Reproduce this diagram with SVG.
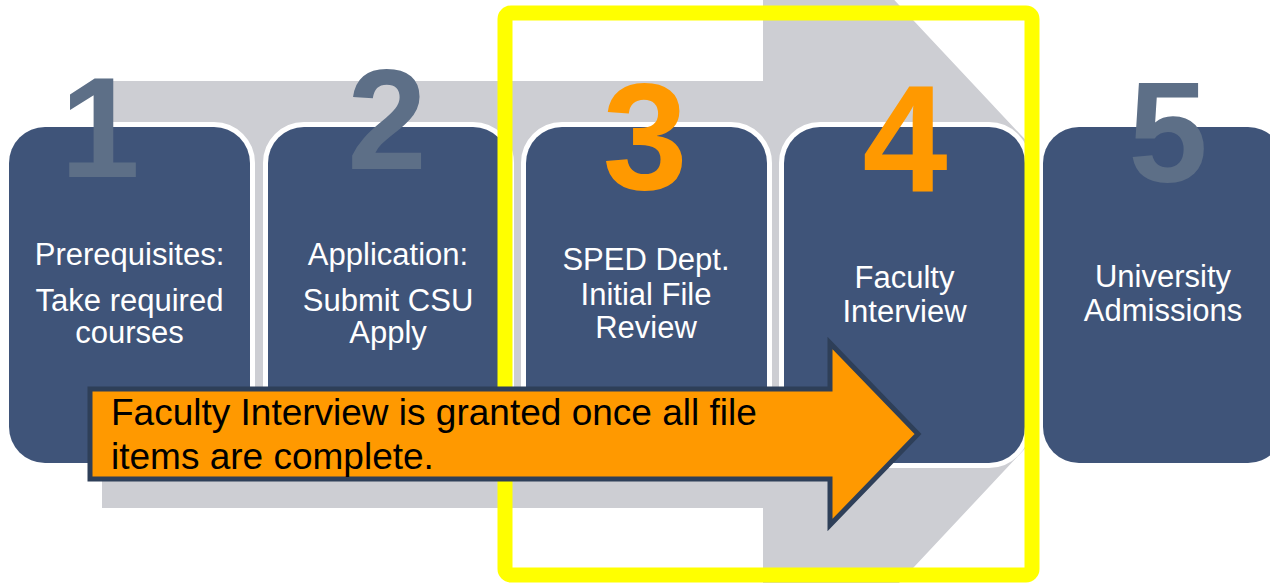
<svg xmlns="http://www.w3.org/2000/svg" width="1270" height="583" viewBox="0 0 1270 583">
<style>
.box{fill:#3F5479;stroke:#FFFFFF;stroke-width:10;paint-order:stroke}
.num{font-family:"Liberation Sans",Arial,sans-serif;font-weight:bold;text-anchor:middle}
.gnum{fill:#5D6F87;font-size:143px}
.onum{fill:#FF9900;font-size:153px}
.lbl{font-family:"Liberation Sans",Arial,sans-serif;font-size:31px;fill:#FFFFFF;text-anchor:middle}
.note{font-family:"Liberation Sans",Arial,sans-serif;font-size:37px;fill:#000000}
</style>
<rect x="0" y="0" width="1270" height="583" fill="#FFFFFF"/>
<g id="connectors">
<path id="bg-arrow" d="M102,81 H763 V-140 L1170,294 L763,728 V508 H102 Z" fill="#CDCED3"/>
</g>
<g id="node1">
<rect class="box" x="9" y="127" width="241" height="336" rx="36"/>
<text class="num gnum" x="100" y="177">1</text>
<text class="lbl" x="129.5" y="265">Prerequisites:</text>
<text class="lbl" x="129.5" y="311">Take required</text>
<text class="lbl" x="129.5" y="343">courses</text>
</g>
<g id="node2">
<rect class="box" x="268" y="127" width="241" height="336" rx="36"/>
<text class="num gnum" x="387" y="169">2</text>
<text class="lbl" x="388" y="265">Application:</text>
<text class="lbl" x="388" y="311">Submit CSU</text>
<text class="lbl" x="388" y="343">Apply</text>
</g>
<g id="node3">
<rect class="box" x="526" y="127" width="241" height="336" rx="36"/>
<text class="num onum" x="645" y="189">3</text>
<text class="lbl" x="646" y="270">SPED Dept.</text>
<text class="lbl" x="646" y="305">Initial File</text>
<text class="lbl" x="646" y="338">Review</text>
</g>
<g id="node4">
<rect class="box" x="784" y="127" width="241" height="336" rx="36"/>
<text class="num onum" x="905" y="191">4</text>
<text class="lbl" x="904.5" y="288">Faculty</text>
<text class="lbl" x="904.5" y="322">Interview</text>
</g>
<g id="node5">
<rect class="box" x="1043" y="127" width="241" height="336" rx="36"/>
<text class="num gnum" x="1168" y="182">5</text>
<text class="lbl" x="1163" y="287">University</text>
<text class="lbl" x="1163" y="321">Admissions</text>
</g>
<g id="highlight">
<rect x="505" y="13" width="527" height="562" rx="6" fill="none" stroke="#FFFF00" stroke-width="15"/>
</g>
<g id="note">
<path d="M90,389 H830 V343 L918,434 L830,525 V479 H90 Z" fill="#FF9900" stroke="#2E3F58" stroke-width="5"/>
<text class="note" x="111" y="425">Faculty Interview is granted once all file</text>
<text class="note" x="111" y="469">items are complete.</text>
</g>
</svg>
